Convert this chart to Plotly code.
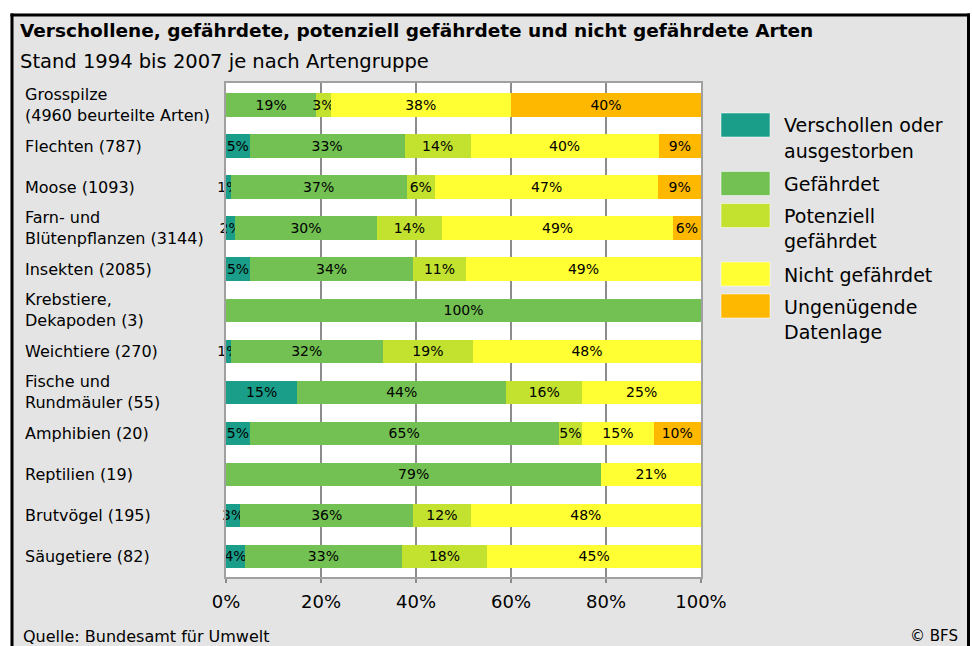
import plotly.graph_objects as go

# ---------------- data ----------------
categories = [
    "Grosspilze<br>(4960 beurteilte Arten)",
    "Flechten (787)",
    "Moose (1093)",
    "Farn- und<br>Blütenpflanzen (3144)",
    "Insekten (2085)",
    "Krebstiere,<br>Dekapoden (3)",
    "Weichtiere (270)",
    "Fische und<br>Rundmäuler (55)",
    "Amphibien (20)",
    "Reptilien (19)",
    "Brutvögel (195)",
    "Säugetiere (82)",
]
verschollen = [0, 5, 1, 2, 5, 0, 1, 15, 5, 0, 3, 4]
gefaehrdet = [19, 33, 37, 30, 34, 100, 32, 44, 65, 79, 36, 33]
potenziell = [3, 14, 6, 14, 11, 0, 19, 16, 5, 0, 12, 18]
nicht_gefaehrdet = [38, 40, 47, 49, 49, 0, 48, 25, 15, 21, 48, 45]
ungenuegend = [40, 9, 9, 6, 0, 0, 0, 0, 10, 0, 0, 0]

series_names = [
    "Verschollen oder<br>ausgestorben",
    "Gefährdet",
    "Potenziell<br>gefährdet",
    "Nicht gefährdet",
    "Ungenügende<br>Datenlage",
]
series_values = [verschollen, gefaehrdet, potenziell, nicht_gefaehrdet, ungenuegend]
series_colors = ["#1b9e89", "#72c152", "#c2e22f", "#ffff33", "#ffb800"]

x_tickvals = [0, 20, 40, 60, 80, 100]
x_ticktext = ["0%", "20%", "40%", "60%", "80%", "100%"]

title_text = "Verschollene, gefährdete, potenziell gefährdete und nicht gefährdete Arten"
subtitle_text = "Stand 1994 bis 2007 je nach Artengruppe"
source_text = "Quelle: Bundesamt für Umwelt"
copyright_text = "© BFS"

# each row is shown as a 100 % bar (the printed values are rounded)
row_totals = [sum(vals) for vals in zip(*series_values)]

# ---------------- layout geometry (pixels) ----------------
W_FIG, H_FIG = 972, 646
L, R, T, B = 226, 701, 83, 577
PW, PH = R - L, B - T


def px(x):
    return (x - L) / PW


def py(y):
    return (B - y) / PH


FONT = "DejaVu Sans"
BG = "#e4e4e4"

fig = go.Figure()
for name, vals, col in zip(series_names, series_values, series_colors):
    fig.add_trace(go.Bar(
        y=categories,
        x=[v * 100.0 / t for v, t in zip(vals, row_totals)],
        orientation="h",
        name=name.replace("<br>", " "),
        marker=dict(color=col, line=dict(width=0)),
        text=[f"{v}%" if v else "" for v in vals],
        textposition="inside",
        insidetextanchor="middle",
        textangle=0,
        constraintext="none",
        insidetextfont=dict(family=FONT, size=14, color="black"),
        cliponaxis=False,
        hoverinfo="skip",
        showlegend=False,
    ))

shapes = []
annotations = []

# frame: white outside, black border
shapes += [
    dict(type="rect", xref="paper", yref="paper", x0=px(0), x1=px(W_FIG), y0=py(0), y1=py(13.5),
         fillcolor="white", line=dict(width=0), layer="below"),
    dict(type="rect", xref="paper", yref="paper", x0=px(0), x1=px(10.5), y0=py(0), y1=py(H_FIG),
         fillcolor="white", line=dict(width=0), layer="below"),
    dict(type="rect", xref="paper", yref="paper", x0=px(970), x1=px(W_FIG), y0=py(0), y1=py(H_FIG),
         fillcolor="white", line=dict(width=0), layer="below"),
    dict(type="line", xref="paper", yref="paper", x0=px(10.5), x1=px(970), y0=py(15), y1=py(15),
         line=dict(color="black", width=3)),
    dict(type="line", xref="paper", yref="paper", x0=px(12), x1=px(12), y0=py(13.5), y1=py(H_FIG + 5),
         line=dict(color="black", width=3)),
    dict(type="line", xref="paper", yref="paper", x0=px(968.5), x1=px(968.5), y0=py(13.5), y1=py(H_FIG + 5),
         line=dict(color="black", width=3)),
]

# titles
annotations += [
    dict(text=f"<b>{title_text}</b>", xref="paper", yref="paper", x=px(18), y=py(31),
         xanchor="left", yanchor="middle", showarrow=False,
         font=dict(family=FONT, size=18.5, color="black")),
    dict(text=subtitle_text, xref="paper", yref="paper", x=px(18), y=py(62),
         xanchor="left", yanchor="middle", showarrow=False,
         font=dict(family=FONT, size=19.5, color="black")),
    dict(text=source_text, xref="paper", yref="paper", x=px(21), y=py(636),
         xanchor="left", yanchor="middle", showarrow=False,
         font=dict(family=FONT, size=16, color="black")),
    dict(text=copyright_text, xref="paper", yref="paper", x=px(960), y=py(636),
         xanchor="right", yanchor="middle", showarrow=False,
         font=dict(family=FONT, size=15, color="black")),
]

# category labels (left aligned)
for cat in categories:
    annotations.append(dict(text=cat, xref="paper", yref="y", x=px(23), y=cat,
                            xanchor="left", yanchor="middle", align="left", showarrow=False,
                            font=dict(family=FONT, size=16, color="black")))

# custom legend
top = 113
for name, col in zip(series_names, series_colors):
    lines = name.split("<br>")
    shapes.append(dict(type="rect", xref="paper", yref="paper",
                       x0=px(721), x1=px(770), y0=py(top), y1=py(top + 24),
                       fillcolor=col, line=dict(color="rgba(255,255,255,0.5)", width=1)))
    for i, ln in enumerate(lines):
        annotations.append(dict(text=ln, xref="paper", yref="paper", x=px(782), y=py(top + 12.5 + 25 * i),
                                xanchor="left", yanchor="middle", showarrow=False,
                                font=dict(family=FONT, size=19, color="black")))
    top += 32 + 26.5 * (len(lines) - 1)

fig.update_layout(
    width=W_FIG, height=H_FIG,
    margin=dict(l=L, r=W_FIG - R, t=T, b=H_FIG - B, pad=0),
    paper_bgcolor=BG,
    plot_bgcolor="white",
    barmode="stack",
    bargap=0.43,
    showlegend=False,
    shapes=shapes,
    annotations=annotations,
    xaxis=dict(range=[0, 100], tickmode="array", tickvals=x_tickvals, ticktext=x_ticktext,
               showgrid=True, gridcolor="#8c8c8c", gridwidth=2,
               showline=True, mirror=True, linecolor="#a0a0a0", linewidth=2,
               ticks="outside", ticklen=4, tickcolor="#8c8c8c", tickwidth=2,
               tickfont=dict(family=FONT, size=18, color="black"),
               ticklabelstandoff=3, zeroline=False, fixedrange=True),
    yaxis=dict(categoryorder="array", categoryarray=categories, autorange="reversed",
               showticklabels=False, showgrid=False, zeroline=False,
               showline=True, mirror=True, linecolor="#a0a0a0", linewidth=2,
               ticks="", fixedrange=True),
)

fig.write_html("out.html",
               config={"displayModeBar": False, "staticPlot": True},
               post_script="document.body.style.margin='0';document.body.style.padding='0';")
